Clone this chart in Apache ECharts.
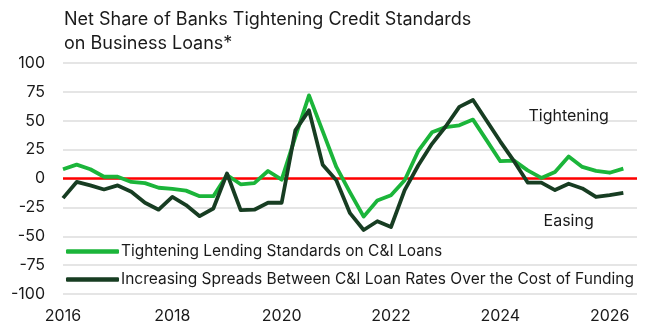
<!DOCTYPE html>
<html>
<head>
<meta charset="utf-8">
<script src="https://cdn.jsdelivr.net/npm/echarts@6/dist/echarts.min.js"></script>
<style>
html,body{margin:0;padding:0;background:#fff;}
#chart{width:645px;height:326px;}
</style>
</head>
<body>
<div id="chart"></div>
<script>
// Survey quarters (Jan, Apr, Jul, Oct releases), 2016Q1 .. 2026Q2
const quarters = [
  "2016-01","2016-04","2016-07","2016-10",
  "2017-01","2017-04","2017-07","2017-10",
  "2018-01","2018-04","2018-07","2018-10",
  "2019-01","2019-04","2019-07","2019-10",
  "2020-01","2020-04","2020-07","2020-10",
  "2021-01","2021-04","2021-07","2021-10",
  "2022-01","2022-04","2022-07","2022-10",
  "2023-01","2023-04","2023-07","2023-10",
  "2024-01","2024-04","2024-07","2024-10",
  "2025-01","2025-04","2025-07","2025-10",
  "2026-01","2026-04"
];
const tighteningStandards = [
  8, 12, 8, 1.5,
  1.5, -3, -4, -8,
  -9, -10.5, -15.3, -15.3,
  3, -5, -4, 6.5,
  -1, 36, 72, 41,
  10, -12, -33, -19,
  -14.5, -1.5, 24, 40,
  44.5, 46, 51, 33,
  15, 15.5, 7, 0.5,
  5.7, 19, 10, 6.6,
  5, 8.5
];
const increasingSpreads = [
  -17, -3, -6, -9.5,
  -6, -11.5, -21, -27,
  -16, -23, -32.6, -26,
  4.3, -27.4, -27, -21,
  -21, 41.7, 59, 12,
  -1.5, -30, -44.6, -37,
  -42, -10, 11.5, 30,
  45, 62, 68, 50,
  32, 15, -3.5, -3.5,
  -10, -4.5, -8.6, -16,
  -14.4, -12.5
];
const seriesNames = [
  "Tightening Lending Standards on C&I Loans",
  "Increasing Spreads Between C&I Loan Rates Over the Cost of Funding"
];
const yTicks = [-100, -75, -50, -25, 0, 25, 50, 75, 100];
const xTickYears = [2016, 2018, 2020, 2022, 2024, 2026];
const titleText = "Net Share of Banks Tightening Credit Standards\non Business Loans*";
const annotations = [
  {text: "Tightening", at: ["2025-04", 53.8]},
  {text: "Easing", at: ["2025-04", -36.9]}
];

function toYear(q){
  const [y, m] = q.split("-").map(Number);
  return y + (m - 1) / 12;
}
const pairs = arr => arr.map((v, i) => [toYear(quarters[i]), v]);

const FONT = "Inter, 'Noto Sans', sans-serif";
const chart = echarts.init(document.getElementById("chart"), null, {renderer: "canvas"});
chart.setOption({
  animation: false,
  backgroundColor: "#ffffff",
  textStyle: {fontFamily: FONT},
  title: {
    text: titleText,
    left: 64, top: 8, padding: 0,
    textStyle: {fontFamily: FONT, fontSize: 18, fontWeight: "normal", color: "#1a1a1a", lineHeight: 24}
  },
  grid: {left: 63, right: 8, top: 63, bottom: 32, containLabel: false},
  xAxis: {
    type: "value",
    min: 2016, max: 2026.5, interval: 2,
    axisLine: {show: false},
    axisTick: {show: false},
    splitLine: {show: false},
    axisLabel: {
      color: "#1a1a1a", fontSize: 16, margin: 14, fontFamily: FONT,
      formatter: v => (xTickYears.indexOf(v) >= 0 ? String(v) : "")
    }
  },
  yAxis: {
    type: "value",
    min: yTicks[0], max: yTicks[yTicks.length - 1], interval: 25,
    axisLine: {show: false},
    axisTick: {show: false},
    splitLine: {show: true, lineStyle: {color: "#dcdcdc", width: 1.5}},
    axisLabel: {color: "#1a1a1a", fontSize: 16, margin: 18, fontFamily: FONT}
  },
  legend: {
    orient: "vertical",
    left: 66, top: 242.5, padding: 0,
    icon: "roundRect",
    itemWidth: 53, itemHeight: 4.5,
    itemGap: 10,
    textStyle: {fontFamily: FONT, fontSize: 15.5, color: "#1a1a1a", lineHeight: 18, padding: [0, 0, 0, -3]},
    data: seriesNames
  },
  series: [
    {
      name: seriesNames[0],
      type: "line",
      data: pairs(tighteningStandards),
      symbol: "none",
      color: "#1bb53a",
      lineStyle: {width: 3.8, color: "#1bb53a", join: "round"},
      z: 3,
      markLine: {
        silent: true,
        symbol: ["none", "none"],
        label: {show: false},
        lineStyle: {color: "#ff0000", width: 2.5, type: "solid"},
        data: [{yAxis: 0}],
        z: 1
      },
      markPoint: {
        silent: true,
        symbol: "rect", symbolSize: 1,
        itemStyle: {color: "rgba(0,0,0,0)"},
        label: {show: true, position: "inside", color: "#1a1a1a", fontSize: 16, fontFamily: FONT,
          formatter: p => p.name},
        data: annotations.map(a => ({name: a.text, coord: [toYear(a.at[0]), a.at[1]]}))
      }
    },
    {
      name: seriesNames[1],
      type: "line",
      data: pairs(increasingSpreads),
      symbol: "none",
      color: "#173d22",
      lineStyle: {width: 3.8, color: "#173d22", join: "round"},
      z: 4
    }
  ]
});
</script>
</body>
</html>
